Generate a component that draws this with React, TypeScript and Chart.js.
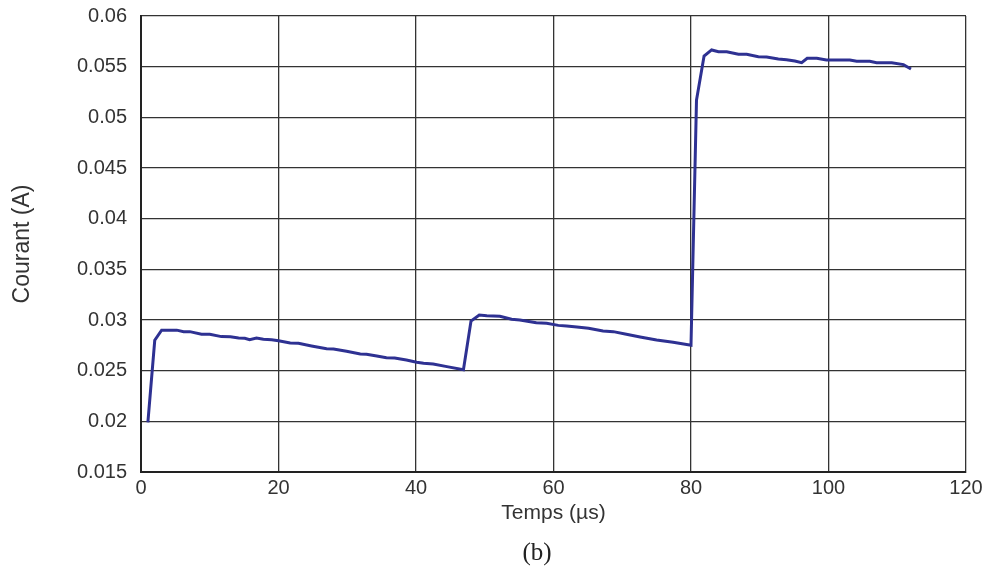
import React, { useEffect, useRef } from "react";
import { Chart, registerables } from "chart.js";

Chart.register(...registerables);

const timeValues: number[] = [
  1.0, 2.0, 3.0, 5.2, 6.2, 7.1, 8.8, 10.0, 11.7, 13.0, 14.2, 15.1, 15.8, 16.8, 17.8, 19.0,
  20.0, 21.7, 22.9, 24.8, 27.0, 28.0, 29.9, 31.9, 32.8, 34.3, 35.7, 36.9, 38.6, 40.1, 41.1,
  42.5, 44.5, 46.9, 48.0, 49.2, 50.3, 52.2, 53.9, 55.1, 57.5, 59.0, 60.7, 61.9, 63.4, 65.1,
  67.2, 68.7, 70.6, 72.6, 75.0, 77.4, 80.0, 80.8, 81.9, 83.0, 84.0, 85.2, 86.9, 88.1, 89.8,
  91.0, 92.7, 93.9, 95.1, 96.1, 96.9, 98.3, 99.7, 103.1, 104.1, 106.0, 107.0, 109.2, 110.9,
  112.0,
];

const currentValues: number[] = [
  0.0199, 0.028, 0.029, 0.029, 0.02885, 0.02885, 0.0286, 0.0286, 0.02836, 0.02834, 0.02823,
  0.0282, 0.02806, 0.02823, 0.0281, 0.02806, 0.02796, 0.02773, 0.0277, 0.02744, 0.02717,
  0.02714, 0.02691, 0.02665, 0.02662, 0.02645, 0.02628, 0.02625, 0.02605, 0.02583, 0.02573,
  0.02566, 0.0254, 0.0251, 0.0299, 0.0305, 0.03043, 0.03037, 0.03007, 0.03, 0.02974, 0.02967,
  0.02947, 0.0294, 0.02931, 0.02918, 0.02891, 0.02885, 0.02859, 0.02832, 0.02803, 0.0278,
  0.0275, 0.0517, 0.05605, 0.05665, 0.05648, 0.05648, 0.05622, 0.05622, 0.05598, 0.05595,
  0.05576, 0.05569, 0.05556, 0.05539, 0.05582, 0.05582, 0.05566, 0.05566, 0.05553, 0.05553,
  0.05539, 0.05539, 0.0552, 0.05477,
];

const xTitle = "Temps (µs)";
const yTitle = "Courant (A)";
const caption = "(b)";

const FONT = "'Liberation Sans', Arial, Helvetica, sans-serif";

export default function App() {
  const canvasRef = useRef<HTMLCanvasElement | null>(null);

  useEffect(() => {
    if (!canvasRef.current) return;
    const points = timeValues.map((t, i) => ({ x: t, y: currentValues[i] }));
    const chart = new Chart(canvasRef.current, {
      type: "line",
      data: {
        datasets: [
          {
            data: points,
            borderColor: "#2e3192",
            borderWidth: 3,
            pointRadius: 0,
            tension: 0,
            fill: false,
          },
        ],
      },
      options: {
        animation: false,
        responsive: true,
        maintainAspectRatio: false,
        layout: { padding: { top: 16, right: 20, bottom: 47, left: 0 } },
        plugins: { legend: { display: false }, tooltip: { enabled: false } },
        scales: {
          x: {
            type: "linear",
            min: 0,
            max: 120,
            afterFit: (scale: any) => {
              scale.height = 54;
              scale.paddingLeft = 0;
              scale.paddingRight = 0;
            },
            ticks: {
              stepSize: 20,
              padding: 4,
              color: "#333",
              font: { family: FONT, size: 20 },
            },
            grid: { color: "#333", lineWidth: 1.3, drawTicks: false },
            border: { display: true, color: "#222", width: 2 },
            title: {
              display: true,
              text: xTitle,
              color: "#333",
              font: { family: FONT, size: 21 },
              padding: { top: 0, bottom: 0 },
            },
          },
          y: {
            type: "linear",
            min: 0.015,
            max: 0.06,
            afterFit: (scale: any) => {
              scale.width = 141;
              scale.paddingTop = 0;
              scale.paddingBottom = 0;
            },
            ticks: {
              stepSize: 0.005,
              padding: 14,
              color: "#333",
              font: { family: FONT, size: 20 },
              callback: (v: any) => parseFloat(Number(v).toFixed(3)).toString(),
            },
            grid: { color: "#333", lineWidth: 1.3, drawTicks: false },
            border: { display: true, color: "#222", width: 2 },
            title: {
              display: true,
              text: yTitle,
              color: "#333",
              font: { family: FONT, size: 23 },
              padding: { top: 9, bottom: 0 },
            },
          },
        },
      },
    });
    return () => chart.destroy();
  }, []);

  return (
    <div style={{ position: "absolute", left: 0, top: 0, width: 986, height: 573, background: "#fff" }}>
      <canvas ref={canvasRef} />
      <div
        style={{
          position: "absolute",
          left: 437,
          width: 200,
          top: 537,
          textAlign: "center",
          fontFamily: "'Liberation Serif', 'Times New Roman', serif",
          fontSize: 25,
          lineHeight: "30px",
          color: "#222",
        }}
      >
        {caption}
      </div>
    </div>
  );
}
